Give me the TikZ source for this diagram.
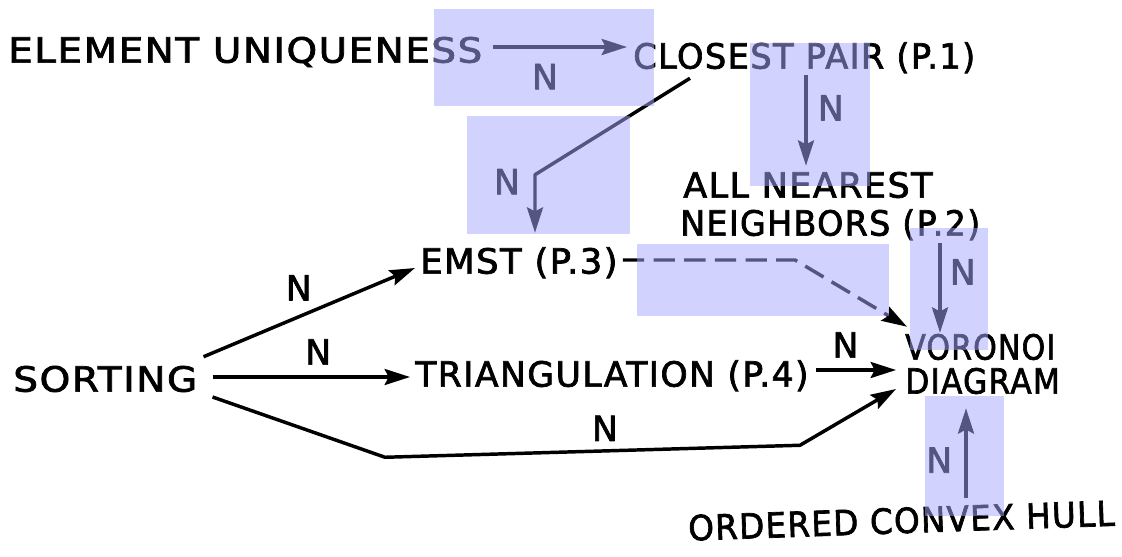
\documentclass[tikz,border=0pt]{standalone}
\usepackage{fontspec}
\setmainfont[LetterSpace=4,FakeBold=2]{DejaVu Sans}
\usetikzlibrary{arrows.meta,calc}
% set a label at a given width, keeping its height
\newcommand\wlabel[2]{\resizebox{#1pt}{\height}{#2}}

\begin{document}
\begin{tikzpicture}[x=0.75pt,y=-0.75pt,
  lbl/.style={inner sep=0pt, anchor=west, text height=18.9pt, text depth=0pt,
    font=\fontsize{26}{30}\selectfont},
  nlab/.style={inner sep=0pt, text height=18.9pt, text depth=0pt,
    font=\fontsize{26}{30}\selectfont},
  link/.style={line width=2.6pt, line join=round,
    -{Stealth[length=19pt,width=12pt,inset=3pt]}},
  dashlink/.style={link, dash pattern=on 16pt off 7pt},
  shade/.style={fill={rgb,255:red,167;green,167;blue,255}, fill opacity=0.51, draw=none}]

\useasboundingbox (0,0) rectangle (1122,557);

% problems
\node[lbl] (eu) at (8,50) {\wlabel{355.5}{ELEMENT UNIQUENESS}};
\node[lbl] (cp) at (633,56) {\wlabel{256.5}{CLOSEST PAIR (P.1)}};
\node[lbl] (ann1) at (683,185) {\wlabel{187}{ALL NEAREST}};
\node[lbl] (ann2) at (680,223) {\wlabel{225}{NEIGHBORS (P.2)}};
\node[lbl] (emst) at (420,261) {\wlabel{148}{EMST (P.3)}};
\node[lbl] (sort) at (13,379) {\wlabel{138}{SORTING}};
\node[lbl] (tri) at (415,374) {\wlabel{295}{TRIANGULATION (P.4)}};
\node[lbl] (vor1) at (905,347) {\wlabel{112.5}{VORONOI}};
\node[lbl] (vor2) at (905,381) {\wlabel{116}{DIAGRAM}};
\node[lbl, rotate=2] (och) at (688,528) {\wlabel{320}{ORDERED CONVEX HULL}};

% bend points
\coordinate (k1) at ($(emst.north west)+(115,-73.4)$);
\coordinate (k2) at ($(emst.west)+(375,-1)$);
\coordinate (k3) at ($(sort.south west)+(372,65.4)$);
\coordinate (k4) at ($(vor2.south west)+(-105,51.4)$);
\coordinate (s10) at ($(vor2.south west)+(61,0)$);

% reductions
\draw[link] ($(eu.east)+(10,-3)$) -- ($(cp.west)+(-6,-9)$)
  node[nlab, pos=0.39, below=11.5pt] {N};
\draw[link] ($(cp.south west)+(57,9.4)$) -- (k1)
  node[nlab, left=10pt, yshift=-5.25pt] {N}
  -- ($(emst.north west)+(115,-15.4)$);
\draw[link] ($(cp.south west)+(173,6.4)$) -- ($(ann1.north west)+(123,-6.4)$)
  node[nlab, pos=0.36, right=7.5pt] {N};
\draw[dashlink] ($(emst.east)+(5,-1)$) -- (k2) -- ($(vor1.north west)+(2,-7.4)$);
\draw[link] ($(ann2.south west)+(260,7.4)$) -- ($(vor1.north west)+(35,-1.4)$)
  node[nlab, pos=0.32, right=6pt] {N};
\draw[link] ($(sort.north east)+(6,-9.4)$) -- ($(emst.west)+(-5,7)$)
  node[nlab, pos=0.45, above=11pt] {N};
\draw[link] ($(sort.east)+(15,-2)$) -- ($(tri.west)+(-5,3)$)
  node[nlab, pos=0.535, above=8pt] {N};
\draw[link] ($(tri.east)+(7,-4)$) -- ($(vor2.west)+(-9,-11)$)
  node[nlab, pos=0.37, above=8pt] {N};
\draw[link] ($(sort.east)+(15,18)$) -- (k3)
  -- node[nlab, pos=0.53, above=6.2pt] {N} (k4)
  -- ($(vor2.west)+(-9,8)$);
\draw[link] ($(s10 |- och.north)+(0,-10)$) -- ($(s10)+(0,14.4)$)
  node[nlab, pos=0.42, left=9pt] {N};

% highlight boxes
\fill[shade] (434,9) rectangle (654,106);
\fill[shade] (467,116) rectangle (630,234);
\fill[shade] (750,43) rectangle (870,186);
\fill[shade] (637,244) rectangle (889,316);
\fill[shade] (910,228) rectangle (988,350);
\fill[shade] (925,396) rectangle (1004,516);
\end{tikzpicture}
\end{document}
